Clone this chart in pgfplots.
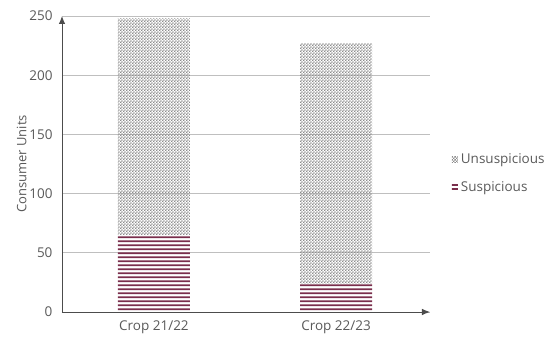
\documentclass[border=0pt]{standalone}
\usepackage{fontspec}
\setmainfont{Open Sans}
\usepackage{pgfplots}
\pgfplotsset{compat=1.18}
\usetikzlibrary{patterns,arrows.meta}
\definecolor{maroon}{HTML}{7A2E4C}
\definecolor{txt}{HTML}{595959}
\definecolor{grid}{HTML}{D9D9D9}

% wide tiles so the stripes have no seams
\pgfdeclarepatternformonly{hstripes}{\pgfpointorigin}{\pgfpoint{100pt}{4pt}}{\pgfpoint{100pt}{4pt}}{%
  \pgfpathrectangle{\pgfpoint{0pt}{1pt}}{\pgfpoint{100pt}{2.1pt}}\pgfusepath{fill}}
\pgfdeclarepatternformonly{checker}{\pgfpointorigin}{\pgfpoint{2.8pt}{2.8pt}}{\pgfpoint{2.8pt}{2.8pt}}{%
  \pgfpathrectangle{\pgfpoint{0pt}{0pt}}{\pgfpoint{1.4pt}{1.4pt}}%
  \pgfpathrectangle{\pgfpoint{1.4pt}{1.4pt}}{\pgfpoint{1.4pt}{1.4pt}}\pgfusepath{fill}}

\begin{document}
\begin{tikzpicture}
\begin{axis}[
  at={(0,0)}, anchor=south west,
  scale only axis, width=368pt, height=296pt,
  ybar stacked, bar width=72pt,
  ymin=0, ymax=250, xmin=-0.505, xmax=1.516,
  xtick={0,1}, xticklabels={Crop 21/22, Crop 22/23},
  ytick={0,50,...,250},
  major tick length=0pt,
  xtick style={draw=none}, ytick style={draw=none},
  axis x line=bottom, axis y line=left,
  axis line style={-{Latex[length=8pt,width=6.5pt]}, black!70, line width=0.9pt},
  ymajorgrids, xmajorgrids=false, grid style={grid, line width=0.8pt},
  tick label style={font=\fontsize{13.5}{16}\selectfont, text=txt},
  /pgf/number format/assume math mode=true,
  xticklabel style={yshift=-5pt},
  yticklabel style={xshift=-6pt},
  ylabel={Consumer Units},
  ylabel style={font=\fontsize{13}{15}\selectfont, text=txt, yshift=-4pt},
  legend style={at={(1.059,0.468)}, anchor=west, draw=none, fill=none,
    font=\fontsize{13.5}{16}\selectfont, text=txt, row sep=12pt,
    inner xsep=0pt, nodes={inner xsep=3pt}},
  legend cell align=left,
  reverse legend,
  area legend,
  legend image code/.code={\path[#1] (0pt,-3pt) rectangle (6pt,3pt);},
]
\addplot[draw=none, pattern=hstripes, pattern color=maroon]
  coordinates {(0,65) (1,24)};
\addplot[draw=none, pattern=checker, pattern color=gray!90]
  coordinates {(0,183) (1,203)};
\legend{Suspicious, Unsuspicious}
\end{axis}
\useasboundingbox (-62pt,-35pt) rectangle (488pt,312pt);
\end{tikzpicture}
\end{document}
